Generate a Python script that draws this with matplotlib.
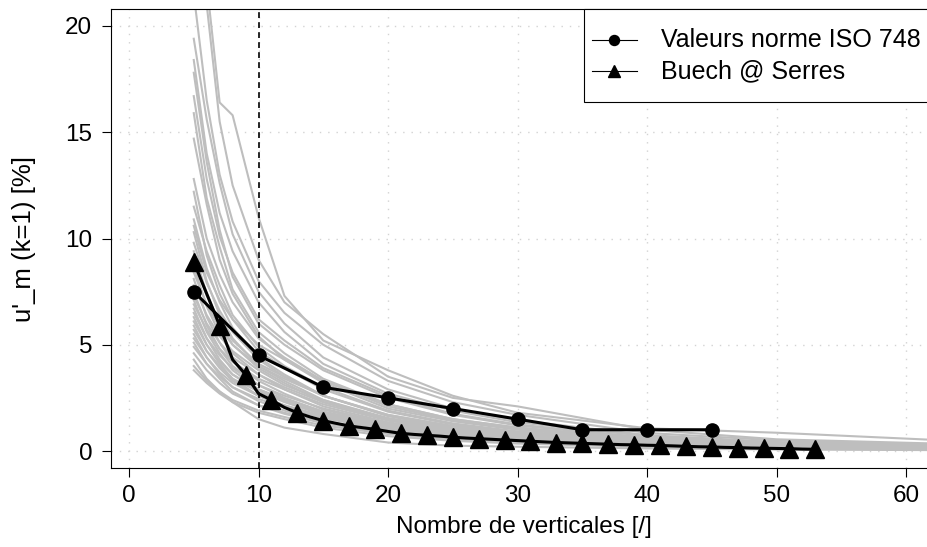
import matplotlib
matplotlib.use("Agg")
import matplotlib.pyplot as plt
from matplotlib.patches import Rectangle
from matplotlib.lines import Line2D

plt.rcParams['font.family'] = ['Liberation Sans', 'DejaVu Sans']

# Courbes grises (une par station)
grid_x = [5, 6, 7, 8, 10, 12, 15, 20, 25, 30, 40, 50, 63]
gray_curves = [
    [30.0, 22.0, 16.4, 15.8, 11.0, 7.3, 5.2, 3.8, 2.6, 1.8, 1.07, 0.86, 0.50],
    [28.0, 21.0, 15.5, 12.5, 9.0, 7.0, 5.5, 3.5, 2.5, 2.1, 1.00, 0.55, 0.34],
    [21.5, 16.5, 13.0, 10.8, 8.0, 6.5, 5.0, 3.3, 2.3, 1.7, 0.85, 0.50, 0.28],
    [19.4, 15.6, 12.6, 10.2, 7.5, 6.0, 4.4, 2.9, 2.0, 1.45, 0.75, 0.42, 0.25],
    [18.4, 14.0, 11.2, 9.4, 7.0, 5.6, 4.1, 2.7, 1.9, 1.35, 0.70, 0.40, 0.22],
    [17.8, 13.6, 10.4, 8.2, 6.0, 5.0, 3.8, 2.5, 1.7, 1.2, 0.62, 0.36, 0.20],
    [16.7, 12.8, 10.1, 8.4, 6.2, 5.2, 3.9, 2.6, 1.75, 1.25, 0.62, 0.36, 0.21],
    [15.9, 11.9, 9.6, 7.6, 5.6, 4.6, 3.4, 2.2, 1.5, 1.1, 0.56, 0.33, 0.19],
    [14.7, 11.6, 9.0, 7.4, 5.4, 4.3, 3.2, 2.0, 1.4, 1.0, 0.52, 0.31, 0.18],
    [12.8, 10.0, 8.3, 7.0, 5.3, 4.4, 3.3, 2.1, 1.45, 1.05, 0.54, 0.33, 0.19],
    [12.2, 9.2, 7.4, 6.2, 4.7, 3.9, 2.9, 1.85, 1.25, 0.90, 0.48, 0.29, 0.17],
    [11.5, 9.4, 7.8, 6.4, 4.9, 4.0, 3.0, 1.9, 1.3, 0.92, 0.50, 0.30, 0.17],
    [10.9, 8.6, 7.0, 5.8, 4.4, 3.6, 2.6, 1.65, 1.1, 0.80, 0.42, 0.25, 0.14],
    [10.6, 8.4, 7.1, 6.2, 5.0, 4.3, 3.3, 2.2, 1.5, 1.1, 0.58, 0.34, 0.20],
    [10.3, 8.0, 6.4, 5.3, 4.0, 3.3, 2.4, 1.5, 1.02, 0.72, 0.38, 0.23, 0.13],
    [9.8, 7.9, 6.6, 5.6, 4.3, 3.5, 2.6, 1.65, 1.12, 0.80, 0.43, 0.26, 0.15],
    [9.4, 7.4, 6.0, 5.0, 3.9, 3.2, 2.3, 1.45, 1.0, 0.70, 0.37, 0.22, 0.12],
    [9.0, 7.3, 6.1, 5.2, 4.1, 3.5, 2.6, 1.7, 1.17, 0.85, 0.46, 0.28, 0.16],
    [8.7, 6.8, 5.5, 4.6, 3.6, 2.9, 2.1, 1.35, 0.92, 0.66, 0.35, 0.21, 0.12],
    [8.4, 6.9, 5.8, 5.0, 4.0, 3.4, 2.6, 1.7, 1.17, 0.85, 0.46, 0.29, 0.17],
    [8.1, 6.3, 5.1, 4.2, 3.3, 2.7, 1.95, 1.25, 0.85, 0.60, 0.32, 0.19, 0.11],
    [7.8, 6.4, 5.4, 4.7, 3.8, 3.1, 2.4, 1.55, 1.06, 0.77, 0.42, 0.26, 0.15],
    [7.5, 5.9, 4.8, 4.0, 3.1, 2.5, 1.85, 1.2, 0.80, 0.58, 0.31, 0.18, 0.10],
    [7.3, 6.0, 5.1, 4.4, 3.6, 3.0, 2.3, 1.5, 1.04, 0.75, 0.41, 0.25, 0.14],
    [7.1, 5.6, 4.6, 3.8, 2.9, 2.4, 1.75, 1.1, 0.75, 0.54, 0.29, 0.17, 0.10],
    [6.9, 5.7, 4.8, 4.2, 3.4, 2.9, 2.2, 1.43, 0.98, 0.70, 0.40, 0.24, 0.14],
    [6.7, 5.3, 4.3, 3.6, 2.8, 2.3, 1.7, 1.07, 0.73, 0.52, 0.28, 0.17, 0.09],
    [6.5, 5.3, 4.5, 3.9, 3.1, 2.6, 2.0, 1.3, 0.90, 0.65, 0.36, 0.22, 0.12],
    [6.3, 5.0, 4.1, 3.4, 2.6, 2.1, 1.55, 0.98, 0.65, 0.47, 0.25, 0.15, 0.08],
    [6.1, 5.0, 4.2, 3.6, 2.9, 2.45, 1.85, 1.22, 0.84, 0.62, 0.35, 0.21, 0.12],
    [5.9, 4.7, 3.9, 3.3, 2.6, 2.15, 1.6, 1.04, 0.72, 0.52, 0.29, 0.17, 0.10],
    [5.7, 4.7, 4.0, 3.4, 2.8, 2.35, 1.8, 1.17, 0.80, 0.58, 0.33, 0.20, 0.11],
    [5.5, 4.4, 3.6, 3.0, 2.35, 1.9, 1.4, 0.90, 0.62, 0.45, 0.25, 0.15, 0.08],
    [5.3, 4.4, 3.7, 3.2, 2.6, 2.15, 1.65, 1.1, 0.75, 0.55, 0.30, 0.18, 0.10],
    [5.1, 4.1, 3.4, 2.8, 2.15, 1.75, 1.3, 0.85, 0.58, 0.42, 0.23, 0.14, 0.08],
    [4.9, 4.1, 3.5, 3.0, 2.45, 2.05, 1.6, 1.04, 0.72, 0.52, 0.29, 0.17, 0.10],
    [4.6, 3.8, 3.2, 2.7, 2.15, 1.8, 1.35, 0.88, 0.60, 0.44, 0.25, 0.15, 0.09],
    [4.3, 3.4, 2.8, 2.3, 1.5, 1.1, 0.80, 0.40, 0.25, 0.20, 0.12, 0.07, 0.04],
    [4.0, 3.3, 2.8, 2.4, 1.9, 1.6, 1.2, 0.80, 0.55, 0.40, 0.22, 0.13, 0.08],
    [3.8, 3.2, 2.7, 2.3, 1.8, 1.5, 1.1, 0.70, 0.48, 0.35, 0.19, 0.11, 0.07],
]

# Valeurs norme ISO 748
iso_x = [5, 10, 15, 20, 25, 30, 35, 40, 45]
iso_y = [7.5, 4.5, 3.0, 2.5, 2.0, 1.5, 1.0, 1.0, 1.0]

# Buech @ Serres
buech_x = list(range(5, 54))
buech_y = [8.9, 7.4, 5.9, 4.3, 3.6, 2.7, 2.4, 2.05, 1.8, 1.6,
           1.43, 1.3, 1.18, 1.1, 1.02, 0.92, 0.83, 0.78, 0.74, 0.70,
           0.65, 0.61, 0.58, 0.55, 0.52, 0.49, 0.46, 0.43, 0.40, 0.38,
           0.36, 0.34, 0.32, 0.30, 0.29, 0.27, 0.26, 0.24, 0.22, 0.20,
           0.19, 0.17, 0.16, 0.14, 0.13, 0.12, 0.11, 0.09, 0.08]

W, H = 928, 547
fig = plt.figure(figsize=(W / 100, H / 100), dpi=100)
# zone de tracé (le bord droit dépasse l'image, comme l'original recadré)
ax = fig.add_axes([111.4 / W, (H - 468) / H, (936.6 - 111.4) / W, (468 - 9) / H])

ax.set_xlim(-1.36, 62.36)
ax.set_ylim(-0.8, 20.8)
ax.set_xticks(range(0, 61, 10))
ax.set_yticks(range(0, 21, 5))
ax.grid(True, color='#D3D3D3', linestyle=(0, (1, 5)), linewidth=1.0)
ax.set_axisbelow(True)

for c in gray_curves:
    ax.plot(grid_x, c, color='#BEBEBE', lw=1.5, zorder=2)

ax.axvline(10, color='black', lw=1.2, ls=(0, (3.5, 2.5)), zorder=3)

ax.plot(iso_x, iso_y, '-o', color='black', lw=2.2, ms=9.5, zorder=4)
ax.plot(buech_x, buech_y, '-^', color='black', lw=2.2, ms=12.5,
        markevery=2, zorder=5)

ax.tick_params(direction='out', length=6.8, width=0.8, labelsize=17.5, colors='black')
ax.tick_params(axis='x', pad=5.5)
ax.tick_params(axis='y', pad=7)
for s in ax.spines.values():
    s.set_linewidth(0.8)

fig.text(524 / W, 1 - 527 / H, 'Nombre de verticales [/]', ha='center', va='center', fontsize=17.5)
fig.text(24 / W, 1 - 239 / H, "u'_m (k=1) [%]", ha='center', va='center',
         rotation=90, fontsize=18.5)

# légende dessinée à la main (coin haut droit, comme R)
def fx(px):
    return px / W

def fy(py):
    return 1 - py / H

box = Rectangle((fx(584), fy(102)), fx(960) - fx(584), fy(9) - fy(102),
                transform=fig.transFigure, facecolor='white', edgecolor='black',
                lw=0.8, zorder=10)
fig.add_artist(box)
entries = [('o', 7.2, 40, 'Valeurs norme ISO 748'),
           ('^', 9.0, 71, 'Buech @ Serres')]
for mk, ms, py, label in entries:
    fig.add_artist(Line2D([fx(592), fx(637)], [fy(py), fy(py)], color='black',
                          lw=0.8, transform=fig.transFigure, zorder=11))
    fig.add_artist(Line2D([fx(614.5)], [fy(py)], marker=mk, ms=ms, color='black',
                          transform=fig.transFigure, zorder=12))
    fig.text(fx(661), fy(py), label, ha='left', va='center', fontsize=18, zorder=12)

fig.savefig('out.png', dpi=100)
